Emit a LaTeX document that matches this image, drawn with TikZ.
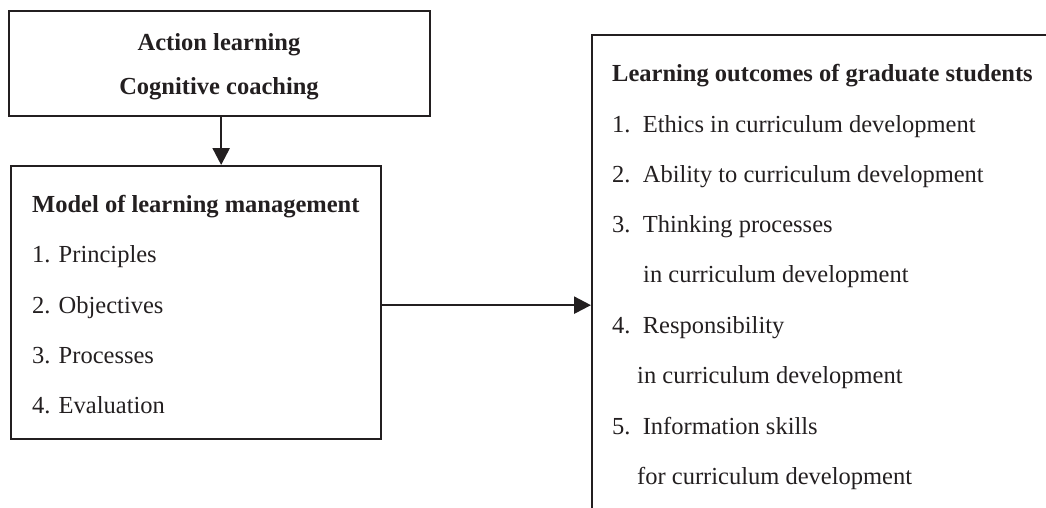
\documentclass[tikz,border=0pt]{standalone}
\usepackage{fontspec}
\setmainfont{Liberation Serif}
\usetikzlibrary{arrows.meta}
\definecolor{ink}{RGB}{35,31,32}
\begin{document}
\begin{tikzpicture}[x=1pt,y=-1pt,
  box/.style={draw=ink,line width=2.3pt,rectangle,inner sep=0pt,anchor=north west},
  txt/.style={inner sep=0pt,anchor=base west,text=ink,font=\fontsize{24.5}{30}\selectfont},
  ctxt/.style={txt,anchor=base},
  head/.style={txt,font=\fontsize{24.5}{30}\selectfont\bfseries},
  arr/.style={draw=ink,line width=2.5pt,-{Triangle[length=17pt,width=17pt]}}]
\useasboundingbox (0,0) rectangle (1046,507);
\clip (0,0) rectangle (1046,507);

% boxes
\node[box,minimum width=421pt,minimum height=105pt] (top) at (8,10) {};
\node[box,minimum width=370pt,minimum height=273pt] (mid) at (10,165) {};
\node[box,minimum width=520pt,minimum height=520pt] (out) at (591,34) {};

% top box
\node[ctxt,font=\fontsize{24.5}{30}\selectfont\bfseries] (t1) at (219,50) {Action learning};
\node[ctxt,font=\fontsize{24.5}{30}\selectfont\bfseries] (t2) at (219,94) {Cognitive coaching};

% model box
\node[head] (m0) at (32,212) {Model of learning management};
\node[txt] (m1) at (32,262) {1. Principles};
\node[txt] (m2) at (32,313) {2. Objectives};
\node[txt] (m3) at (32,363) {3. Processes};
\node[txt] (m4) at (32,413) {4. Evaluation};

% outcomes box
\node[head] (o0) at (612,81) {Learning outcomes of graduate students};
\node[txt] (o1) at (612,132) {1.\ \ Ethics in curriculum development};
\node[txt] (o2) at (612,182) {2.\ \ Ability to curriculum development};
\node[txt] (o3) at (612,232) {3.\ \ Thinking processes};
\node[txt] (o3b) at (643,282) {in curriculum development};
\node[txt] (o4) at (612,333) {4.\ \ Responsibility};
\node[txt] (o4b) at (637,383) {in curriculum development};
\node[txt] (o5) at (612,434) {5.\ \ Information skills};
\node[txt] (o5b) at (637,484) {for curriculum development};

% connectors
\draw[arr] ([xshift=1.5pt]top.south) -- ([xshift=1.5pt]top.south |- mid.north);
\draw[arr] ([yshift=-2.5pt]mid.east) -- ([yshift=-2.5pt]mid.east -| out.west);
\end{tikzpicture}
\end{document}
